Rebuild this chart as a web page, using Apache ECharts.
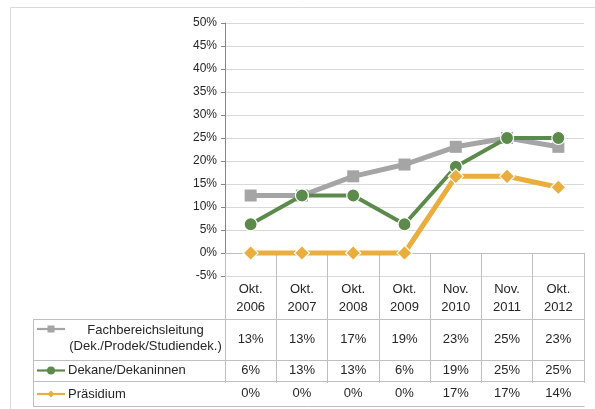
<!DOCTYPE html>
<html>
<head>
<meta charset="utf-8">
<script src="https://cdn.jsdelivr.net/npm/echarts@6/dist/echarts.min.js"></script>
<style>
  html, body { margin: 0; padding: 0; background: #fff; }
  #chart { width: 595px; height: 409px; }
</style>
</head>
<body>
<div id="chart"></div>
<script>
// Anteil von Frauen in Leitungsfunktionen, in Prozent
const categories = ['Okt. 2006', 'Okt. 2007', 'Okt. 2008', 'Okt. 2009', 'Nov. 2010', 'Nov. 2011', 'Okt. 2012'];
const fachbereichsleitung = [12.5, 12.5, 16.67, 19.23, 23.08, 25, 23.08];
const dekane = [6.25, 12.5, 12.5, 6.25, 18.75, 25, 25];
const praesidium = [0, 0, 0, 0, 16.67, 16.67, 14.29];
const seriesNames = ['Fachbereichsleitung (Dek./Prodek/Studiendek.)', 'Dekane/Dekaninnen', 'Präsidium'];
const rowLabels = [['Fachbereichsleitung', '(Dek./Prodek/Studiendek.)'], ['Dekane/Dekaninnen'], ['Präsidium']];
const yMin = -5, yMax = 50, yStep = 5;

const colors = ['#a5a5a5', '#5b8a4b', '#e9ae3e'];
const FONT = 'Liberation Sans, Arial, sans-serif';
const TEXT = '#262626';
const TABLE_LINE = '#bfbfbf';
const TABLE_FONT = '13px ' + FONT;

// layout of plot area and data table
const G = { left: 225, right: 584, top: 23, bottom: 276 };
const tableRows = [276, 319, 359.5, 381, 406];
const tableLeft = 33;

const chart = echarts.init(document.getElementById('chart'), null, { renderer: 'canvas' });

const seriesData = [fachbereichsleitung, dekane, praesidium];
const symbols = ['rect', 'circle', 'diamond'];
const symbolSizes = [12, 13, 15];
const lineWidths = [5, 4, 5];

chart.setOption({
  animation: false,
  textStyle: { fontFamily: FONT },
  grid: { left: G.left, top: G.top, width: G.right - G.left, height: G.bottom - G.top, containLabel: false },
  xAxis: {
    type: 'category',
    data: categories,
    boundaryGap: true,
    axisLine: { show: true, lineStyle: { color: TABLE_LINE, width: 1 } },
    axisTick: { show: true, length: tableRows[4] - tableRows[0], lineStyle: { color: TABLE_LINE } },
    axisLabel: {
      formatter: v => v.replace(' ', '\n'),
      fontFamily: FONT, fontSize: 13, color: TEXT, lineHeight: 18, margin: 4, interval: 0
    },
    splitLine: { show: false }
  },
  yAxis: {
    type: 'value',
    min: yMin, max: yMax, interval: yStep,
    axisLine: { show: true, lineStyle: { color: '#868686' } },
    axisTick: { show: true, length: 4, lineStyle: { color: '#868686' } },
    axisLabel: { formatter: '{value}%', fontFamily: FONT, fontSize: 12, color: TEXT, margin: 8 },
    splitLine: { show: true, lineStyle: { color: '#d9d9d9' } }
  },
  series: seriesNames.map((name, i) => ({
    name,
    type: 'line',
    data: seriesData[i],
    symbol: symbols[i],
    symbolSize: symbolSizes[i],
    showAllSymbol: true,
    lineStyle: { color: colors[i], width: lineWidths[i] },
    itemStyle: { color: colors[i], borderColor: i === 0 ? colors[i] : '#ffffff', borderWidth: i === 0 ? 0 : 1.2 },
    z: 2 + i
  }))
});

// data table beneath the axis
const els = [];
const lineStyle = { stroke: TABLE_LINE, lineWidth: 1 };
// outer frame of the chart area
els.push({ type: 'line', shape: { x1: 10.5, y1: 7.5, x2: 595, y2: 7.5 }, style: { stroke: '#d9d9d9', lineWidth: 1 } });
els.push({ type: 'line', shape: { x1: 10.5, y1: 7.5, x2: 10.5, y2: 409 }, style: { stroke: '#d9d9d9', lineWidth: 1 } });
// horizontal rules of the table body
for (let r = 1; r < tableRows.length; r++) {
  const y = Math.round(tableRows[r]) + 0.5;
  els.push({ type: 'line', shape: { x1: tableLeft, y1: y, x2: G.right + 0.5, y2: y }, style: lineStyle });
}
els.push({ type: 'line', shape: { x1: tableLeft + 0.5, y1: tableRows[1], x2: tableLeft + 0.5, y2: tableRows[4] + 0.5 }, style: lineStyle });

// value cells
seriesData.forEach((vals, r) => {
  const cy = (tableRows[r + 1] + tableRows[r + 2]) / 2;
  vals.forEach((v, i) => {
    const x = chart.convertToPixel({ xAxisIndex: 0 }, categories[i]);
    els.push({
      type: 'text', x, y: cy,
      style: { text: Math.round(v) + '%', font: TABLE_FONT, fill: TEXT, align: 'center', verticalAlign: 'middle' }
    });
  });
});

// legend keys and series names in the first column
const keyX1 = 37, keyX2 = 65, keyMid = 51;
const keyY = [329, 370.5, 394];
keyY.forEach((y, r) => {
  els.push({ type: 'line', shape: { x1: keyX1, y1: y, x2: keyX2, y2: y }, style: { stroke: colors[r], lineWidth: 2.2 } });
  if (r === 0) {
    els.push({ type: 'rect', shape: { x: keyMid - 3.5, y: y - 3.5, width: 7, height: 7 }, style: { fill: colors[r] } });
  } else if (r === 1) {
    els.push({ type: 'circle', shape: { cx: keyMid, cy: y, r: 4 }, style: { fill: colors[r] } });
  } else {
    els.push({ type: 'polygon', shape: { points: [[keyMid, y - 3.5], [keyMid + 3.5, y], [keyMid, y + 3.5], [keyMid - 3.5, y]] }, style: { fill: colors[r] } });
  }
});
els.push({ type: 'text', x: 145.5, y: 330, style: { text: rowLabels[0][0], font: TABLE_FONT, fill: TEXT, align: 'center', verticalAlign: 'middle' } });
els.push({ type: 'text', x: 145.5, y: 346, style: { text: rowLabels[0][1], font: TABLE_FONT, fill: TEXT, align: 'center', verticalAlign: 'middle' } });
els.push({ type: 'text', x: 68, y: keyY[1], style: { text: rowLabels[1][0], font: TABLE_FONT, fill: TEXT, align: 'left', verticalAlign: 'middle' } });
els.push({ type: 'text', x: 68, y: keyY[2], style: { text: rowLabels[2][0], font: TABLE_FONT, fill: TEXT, align: 'left', verticalAlign: 'middle' } });

chart.setOption({ graphic: { elements: els.map(e => Object.assign({ silent: true, z: 10 }, e)) } });
</script>
</body>
</html>
